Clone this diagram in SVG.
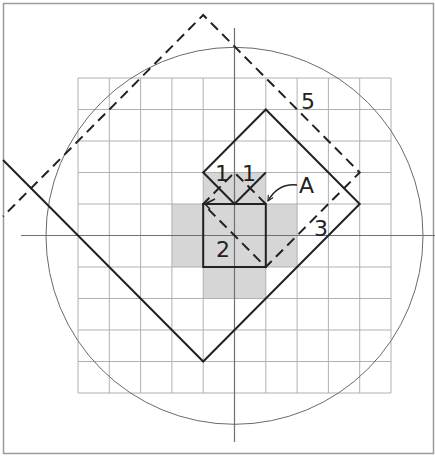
<svg xmlns="http://www.w3.org/2000/svg" width="435" height="456" viewBox="0 0 435 456">
<style>
.grid{stroke:#b0b0b0;stroke-width:1;fill:none}
.axis{stroke:#707070;stroke-width:1.2;fill:none}
.spiral{stroke:#222;stroke-width:2;fill:none;stroke-linejoin:miter}
.dash{stroke:#222;stroke-width:2;fill:none;stroke-dasharray:10 6}
.lbl{font-family:"DejaVu Sans",Verdana,sans-serif;font-size:22px;fill:#222}
</style>
<defs>
<marker id="ah" viewBox="0 0 10 10" refX="9" refY="5" markerWidth="7" markerHeight="7" orient="auto" markerUnits="userSpaceOnUse">
<path d="M1,1 L9,5 L1,9" fill="none" stroke="#222" stroke-width="1.6"/>
</marker>
</defs>
<rect x="0" y="0" width="435" height="456" fill="#fff"/>
<rect x="3.5" y="3.5" width="430" height="450" fill="none" stroke="#9a9a9a" stroke-width="1.5"/>
<g id="shade" fill="#d6d6d6">
<rect x="203.2" y="172.5" width="62.6" height="126"/>
<rect x="171.9" y="204" width="125.2" height="63"/>
</g>
<g id="grid" class="grid">
<path d="M78,78V393M109.3,78V393M140.6,78V393M171.9,78V393M203.2,78V393M265.8,78V393M297.1,78V393M328.4,78V393M359.7,78V393M391,78V393"/>
<path d="M78,78H391M78,109.5H391M78,141H391M78,172.5H391M78,204H391M78,267H391M78,298.5H391M78,330H391M78,361.5H391M78,393H391"/>
</g>
<g id="axes" class="axis">
<line x1="234.5" y1="28" x2="234.5" y2="442"/>
<line x1="21" y1="235.5" x2="435" y2="235.5"/>
</g>
<circle id="circle" cx="234.5" cy="235.8" r="188.5" fill="none" stroke="#6a6a6a" stroke-width="1"/>
<g id="square2">
<rect x="203.2" y="204" width="62.6" height="63" fill="none" stroke="#222" stroke-width="2"/>
</g>
<g id="connectors">
<polyline class="spiral" points="265.8,172.5 234.5,204 203.2,172.5 265.8,109.5 359.7,204 203.2,361.5 3,160"/>
<polyline class="dash" points="265.8,204 234.5,172.5 203.2,204 265.8,267 359.7,172.5 203.2,15 3,216.5"/>
<path d="M215,199 L205,204 L210,209" fill="none" stroke="#222" stroke-width="1.6"/>
<path d="M297,185 Q278,183 268,201" fill="none" stroke="#222" stroke-width="1.5" marker-end="url(#ah)"/>
</g>
<g id="labels">
<text class="lbl" x="215" y="181" font-size="19">1</text>
<text class="lbl" x="242" y="181" font-size="19">1</text>
<text class="lbl" x="216" y="257">2</text>
<text class="lbl" x="314" y="236">3</text>
<text class="lbl" x="301" y="109">5</text>
<text class="lbl" x="299" y="193">A</text>
</g>
</svg>
